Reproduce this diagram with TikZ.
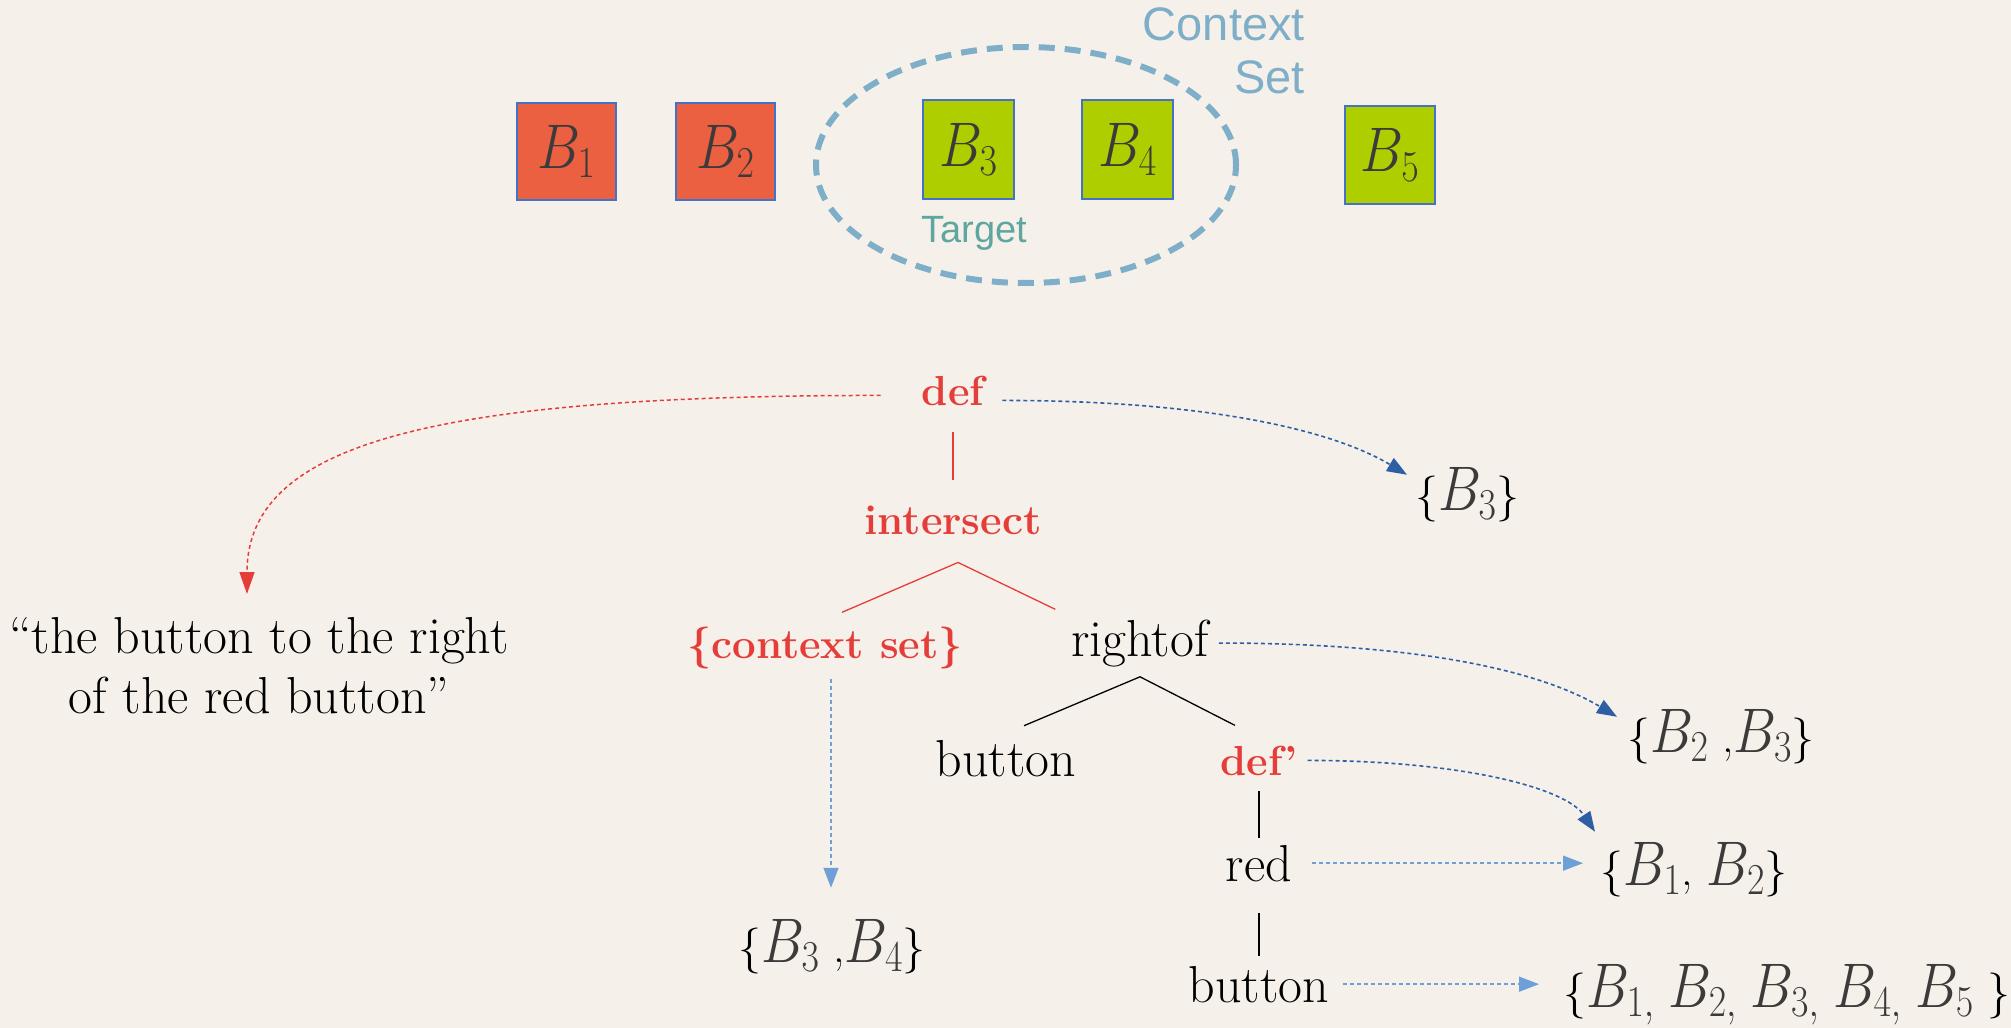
\RequirePackage{fix-cm}
\documentclass[tikz,border=0pt]{standalone}
\usepackage{fontspec}
\usepackage{graphicx}
\newfontfamily\sanslabel{Liberation Sans}
\usetikzlibrary{arrows.meta,calc,positioning}

\definecolor{PaperBg}{RGB}{245,241,234}
\definecolor{BtnRed}{RGB}{234,96,64}
\definecolor{BtnGreen}{RGB}{175,206,0}
\definecolor{BtnEdge}{RGB}{68,114,196}
\definecolor{RingBlue}{RGB}{127,175,200}
\definecolor{TargetTeal}{RGB}{96,166,160}
\definecolor{OpRed}{RGB}{229,62,58}
\definecolor{DenoBlue}{RGB}{46,95,165}
\definecolor{LeafBlue}{RGB}{110,160,215}
\definecolor{InkGray}{RGB}{60,58,58}

% button symbol B_i, a bit narrow
\newcommand{\Bsym}[1]{\scalebox{0.86}[1]{\fontsize{63}{68}\selectfont\color{InkGray}$B_{#1}$}}

\begin{document}
\begin{tikzpicture}[
    x=1pt, y=-1pt,
    btn/.style={draw=BtnEdge, line width=1.2pt, inner sep=0pt},
    word/.style={anchor=base, inner sep=10pt, font=\fontsize{52}{62}\selectfont},
    op/.style={word, text=OpRed, font=\fontsize{42}{50}\selectfont\bfseries},
    setnode/.style={anchor=base west, inner sep=0pt, font=\fontsize{46}{50}\selectfont},
    redtree/.style={draw=OpRed, line width=1.3pt},
    blacktree/.style={draw=black, line width=1.3pt},
    denote/.style={draw=DenoBlue, line width=1.6pt, dash pattern=on 4pt off 3pt, -{Triangle[length=20pt,width=15pt]}},
    leaf/.style={draw=LeafBlue, line width=1.6pt, dash pattern=on 4pt off 3pt, -{Triangle[length=20pt,width=15pt]}},
    quotearr/.style={draw=OpRed, line width=1.5pt, dash pattern=on 4pt off 3pt, -{Triangle[length=22pt,width=15pt]}},
    ring/.style={draw=RingBlue, line width=6pt, dash pattern=on 16pt off 10pt}
]
    \fill[PaperBg] (0,0) rectangle (2011,1028);

    % the five buttons
    \node[btn, fill=BtnRed, minimum width=99pt, minimum height=97pt] (b1) at (566.5,151.5) {\Bsym{1}};
    \node[btn, fill=BtnRed, minimum width=99pt, minimum height=97pt] (b2) at (725.5,151.5) {\Bsym{2}};
    \node[btn, fill=BtnGreen, minimum width=91pt, minimum height=99pt] (b3) at (968.5,149.5) {\Bsym{3}};
    \node[btn, fill=BtnGreen, minimum width=91pt, minimum height=99pt] (b4) at (1127.5,149.5) {\Bsym{4}};
    \node[btn, fill=BtnGreen, minimum width=90pt, minimum height=98pt] (b5) at (1390,155) {\Bsym{5}};

    \draw[ring] (1026,165) ellipse [x radius=210pt, y radius=118pt];
    \node[anchor=north east, inner sep=0pt, align=right, text=RingBlue, font=\sanslabel\fontsize{47}{53}\selectfont] (ctxlabel) at (1305,7) {Context\\Set};
    \node[anchor=base, inner sep=0pt, text=TargetTeal, font=\sanslabel\fontsize{38}{44}\selectfont] (target) at (974,242) {Target};

    % utterance
    \node[anchor=north, inner sep=0pt, align=center, font=\fontsize{52}{60}\selectfont] (utter) at (259,617) {``the button to the right\\of the red button''};

    % logical form
    \node[op] (def) at (953,405) {def};
    \node[op] (isect) at (953,534) {intersect};
    \node[op] (ctx) at (825,658) {\{context set\}};
    \node[word] (rightof) at (1140,656) {rightof};
    \node[word] (btnA) at (1006,776) {button};
    \node[op] (defp) at (1259,775) {def'};
    \node[word] (red) at (1259,881) {red};
    \node[word] (btnB) at (1259,1002) {button};

    % denotations
    \node[setnode] (s3) at (1415,510) {\{\Bsym{3}\}};
    \node[setnode] (s23) at (1627,752) {\{\Bsym{2} ,\Bsym{3}\}};
    \node[setnode] (s12) at (1600,885) {\{\Bsym{1}, \Bsym{2}\}};
    \node[setnode] (sall) at (1563,1007) {\{\Bsym{1,} \Bsym{2,} \Bsym{3,} \Bsym{4,} \Bsym{5} \}};
    \node[setnode] (s34) at (738,962) {\{\Bsym{3} ,\Bsym{4}\}};

    % tree edges
    \draw[redtree, shorten <=17pt, shorten >=15pt] (def) -- (isect);
    \draw[redtree] ($(ctx.north)+(17,-4)$) -- ($(isect.south)+(5,18)$) -- ($(rightof.north west)+(-6,0)$);
    \draw[blacktree] ($(btnA.north)+(18,-4)$) -- (rightof.south) -- ($(defp.north)+(-24,-10)$);
    \draw[blacktree, shorten <=6pt, shorten >=-3pt] (defp) -- (red);
    \draw[blacktree, shorten <=21pt] (red) -- (btnB);

    % arrows to what each part denotes
    \draw[quotearr] ($(def.west)+(-31,5)$) .. controls +(-450,0) and +(0,-150) .. ($(utter.north)+(-12,-23)$);
    \draw[denote] ($(def.east)+(8,10)$) .. controls +(200,0) and +(-77,-46) .. ($(s3.north west)+(-8,8)$);
    \draw[denote] (rightof.east) .. controls +(200,0) and +(-77,-46) .. ($(s23.north west)+(-10,8)$);
    \draw[denote] (defp.east) .. controls +(150,0) and +(-30,-45) .. ($(s12.north west)+(-5,-10)$);
    \draw[leaf, shorten <=10pt, shorten >=17pt] (red.east) -- (red.east -| s12.west);
    \draw[leaf, shorten <=4pt, shorten >=24pt] (btnB.east) -- (btnB.east -| sall.west);
    \draw[leaf, shorten >=31pt] ([xshift=6pt]ctx.south) -- ([xshift=6pt]ctx.south |- s34.north);
\end{tikzpicture}
\end{document}
